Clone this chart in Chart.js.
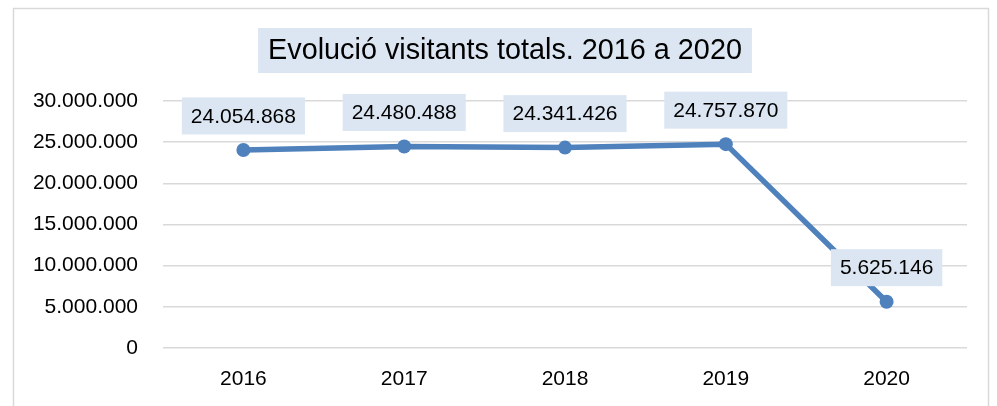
<!DOCTYPE html>
<html>
<head>
<meta charset="utf-8">
<script src="https://cdn.jsdelivr.net/npm/chart.js@4"></script>
<style>
  html, body { margin: 0; padding: 0; background: #fff; }
  #wrap { width: 997px; height: 406px; }
</style>
</head>
<body>
<div id="wrap"><canvas id="grafica" width="997" height="406"></canvas></div>
<script>
// datos
const anys = ['2016', '2017', '2018', '2019', '2020'];
const visitants = [24054868, 24480488, 24341426, 24757870, 5625146];
const titol = 'Evolució visitants totals. 2016 a 2020';

const FONT = '"Liberation Sans", Arial, sans-serif';
const blau = '#4f81bd';
const caixa = '#dce6f2';

// formato con puntos de miles
function fmt(v) {
    return String(Math.round(v)).replace(/\B(?=(\d{3})+(?!\d))/g, '.');
}

// marco, título y etiquetas
const decoracio = {
    id: 'decoracio',
    beforeDraw(chart) {
        const ctx = chart.ctx;
        ctx.save();
        ctx.fillStyle = '#fff';
        ctx.fillRect(0, 0, chart.width, chart.height);
        ctx.strokeStyle = '#d9d9d9';
        ctx.lineWidth = 1.5;
        ctx.strokeRect(13.5, 8.5, 975, 420);
        ctx.restore();
    },
    afterDraw(chart) {
        const ctx = chart.ctx;
        ctx.save();
        // título
        ctx.font = '28.8px ' + FONT;
        ctx.textAlign = 'center';
        ctx.textBaseline = 'middle';
        const tw = ctx.measureText(titol).width;
        const cx = 505, cy = 50.5;
        ctx.fillStyle = caixa;
        ctx.fillRect(cx - tw / 2 - 10, cy - 22.5, tw + 20, 45);
        ctx.fillStyle = '#000';
        ctx.fillText(titol, cx, cy + 1);

        // etiquetas de datos
        ctx.font = '21px ' + FONT;
        const meta = chart.getDatasetMeta(0);
        meta.data.forEach((pt, i) => {
            const txt = fmt(visitants[i]);
            const w = ctx.measureText(txt).width + 18;
            const h = 37;
            const y = pt.y - 34;
            ctx.fillStyle = caixa;
            ctx.fillRect(pt.x - w / 2, y - h / 2, w, h);
            ctx.fillStyle = '#000';
            ctx.fillText(txt, pt.x, y + 1);
        });
        ctx.restore();
    }
};

new Chart(document.getElementById('grafica'), {
    type: 'line',
    data: {
        labels: anys,
        datasets: [{
            data: visitants,
            borderColor: blau,
            backgroundColor: blau,
            borderWidth: 5.5,
            pointRadius: 7,
            pointBackgroundColor: blau,
            pointBorderWidth: 0,
            tension: 0
        }]
    },
    options: {
        responsive: false,
        animation: false,
        layout: { padding: { left: 0, right: 30, top: 101, bottom: 0 } },
        plugins: {
            legend: { display: false },
            tooltip: { enabled: false },
            title: { display: false }
        },
        scales: {
            x: {
                offset: true,
                grid: { display: false, drawTicks: false },
                border: { display: false },
                ticks: { color: '#000', font: { family: FONT, size: 21 }, padding: 19 },
                afterFit(s) { s.height = 58; }
            },
            y: {
                min: 0,
                max: 30000000,
                grid: { color: '#d9d9d9', lineWidth: 1.5, drawTicks: false },
                border: { display: false },
                ticks: {
                    stepSize: 5000000,
                    color: '#000',
                    font: { family: FONT, size: 21 },
                    padding: 25,
                    callback: v => fmt(v)
                },
                afterFit(s) { s.width = 163; }
            }
        }
    },
    plugins: [decoracio]
});
</script>
</body>
</html>
